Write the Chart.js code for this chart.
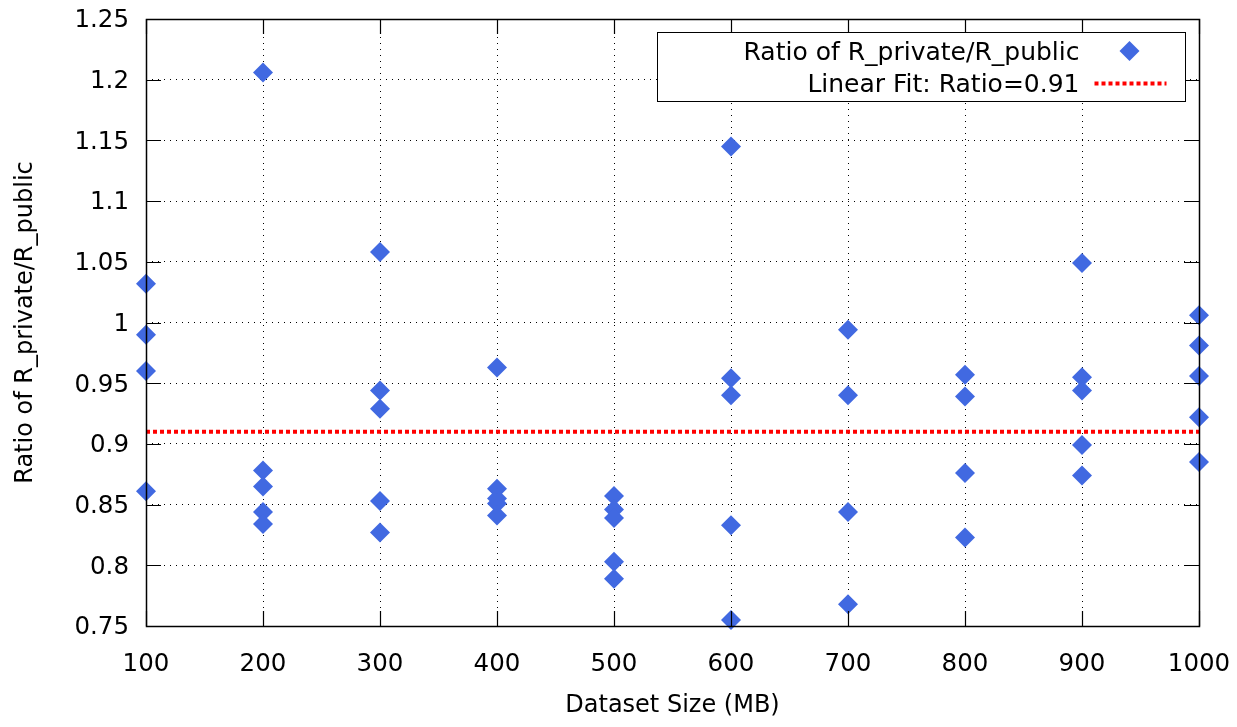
<!DOCTYPE html>
<html><head><meta charset="utf-8">
<script src="https://cdn.jsdelivr.net/npm/chart.js@4.4.1/dist/chart.umd.min.js"></script>
<style>html,body{margin:0;padding:0;background:#fff;}canvas{display:block;}</style>
</head><body>
<canvas id="c" width="1237" height="727"></canvas>
<script>
// ---- data ----
const datasetSizes = [100, 200, 300, 400, 500, 600, 700, 800, 900, 1000];
const ratios100  = [1.032, 0.990, 0.960, 0.861];
const ratios200  = [1.206, 0.878, 0.865, 0.844, 0.834];
const ratios300  = [1.058, 0.944, 0.929, 0.853, 0.827];
const ratios400  = [0.963, 0.863, 0.855, 0.851, 0.841];
const ratios500  = [0.857, 0.846, 0.839, 0.803, 0.789];
const ratios600  = [1.145, 0.954, 0.940, 0.833, 0.755];
const ratios700  = [0.994, 0.940, 0.844, 0.768];
const ratios800  = [0.957, 0.939, 0.876, 0.823];
const ratios900  = [1.049, 0.955, 0.944, 0.899, 0.874];
const ratios1000 = [1.006, 0.981, 0.956, 0.922, 0.885];
const ratiosBySize = [ratios100, ratios200, ratios300, ratios400, ratios500,
                      ratios600, ratios700, ratios800, ratios900, ratios1000];
const fitRatio = 0.91;
const xTicks = [100, 200, 300, 400, 500, 600, 700, 800, 900, 1000];
const xTickLabels = ['100','200','300','400','500','600','700','800','900','1000'];
const yTicks = [0.75, 0.8, 0.85, 0.9, 0.95, 1, 1.05, 1.1, 1.15, 1.2, 1.25];
const yTickLabels = ['0.75','0.8','0.85','0.9','0.95','1','1.05','1.1','1.15','1.2','1.25'];
const seriesLabel = 'Ratio of R_private/R_public';
const fitLabel = 'Linear Fit: Ratio=' + fitRatio;
const xTitle = 'Dataset Size (MB)';
const yTitle = 'Ratio of R_private/R_public';

// ---- build ----
const points = [];
datasetSizes.forEach((s, i) => ratiosBySize[i].forEach(r => points.push({x: s, y: r})));
const fitPoints = [{x: datasetSizes[0], y: fitRatio}, {x: datasetSizes[datasetSizes.length - 1], y: fitRatio}];

const NF = "'DejaVu Sans', sans-serif";
const BLUE = '#4169e1';
const RED = '#ff0000';

function zeroPad(s) { s.paddingTop = 0; s.paddingBottom = 0; s.paddingLeft = 0; s.paddingRight = 0; }

const framePlugin = {
  id: 'frame',
  afterDatasetsDraw(chart) {
    const {ctx, chartArea: a, scales: {x, y}} = chart;
    ctx.save();
    ctx.setLineDash([]);
    ctx.strokeStyle = '#000';
    ctx.lineWidth = 1.2;
    ctx.beginPath();
    xTicks.forEach(v => {
      const px = Math.round(x.getPixelForValue(v)) + 0.5;
      ctx.moveTo(px, a.bottom); ctx.lineTo(px, a.bottom - 15);
      ctx.moveTo(px, a.top); ctx.lineTo(px, a.top + 15);
    });
    yTicks.forEach(v => {
      const py = Math.round(y.getPixelForValue(v)) + 0.5;
      ctx.moveTo(a.left, py); ctx.lineTo(a.left + 15, py);
      ctx.moveTo(a.right, py); ctx.lineTo(a.right - 15, py);
    });
    ctx.stroke();
    ctx.lineWidth = 1.5;
    ctx.strokeRect(Math.round(a.left) + 0.5, Math.round(a.top) + 0.5,
                   Math.round(a.right - a.left), Math.round(a.bottom - a.top));
    ctx.restore();
  },
  afterDraw(chart) {
    const {ctx, chartArea: a} = chart;
    const ds = chart.data.datasets;
    const bw = 528, bh = 69;
    const bx = Math.round(a.right - 14) + 0.5 - bw, by = Math.round(a.top + 13) + 0.5;
    ctx.save();
    ctx.fillStyle = '#fff';
    ctx.fillRect(bx, by, bw, bh);
    ctx.strokeStyle = '#000';
    ctx.lineWidth = 1;
    ctx.setLineDash([]);
    ctx.strokeRect(bx, by, bw, bh);
    ctx.fillStyle = '#000';
    ctx.font = '25px ' + NF;
    ctx.textAlign = 'right';
    ctx.textBaseline = 'middle';
    const tx = bx + 422;
    ctx.fillText(ds[1].label, tx, by + 21);
    ctx.fillText(ds[0].label, tx, by + 53);
    // diamond sample
    const dx = bx + 472, dy = by + 18.5, r = 10;
    ctx.fillStyle = ds[1].backgroundColor;
    ctx.beginPath();
    ctx.moveTo(dx - r, dy); ctx.lineTo(dx, dy - r); ctx.lineTo(dx + r, dy); ctx.lineTo(dx, dy + r);
    ctx.closePath(); ctx.fill();
    // line sample
    ctx.strokeStyle = ds[0].borderColor;
    ctx.lineWidth = ds[0].borderWidth;
    ctx.setLineDash(ds[0].borderDash);
    ctx.beginPath();
    ctx.moveTo(bx + 437, by + 51); ctx.lineTo(bx + 509, by + 51);
    ctx.stroke();
    ctx.restore();
  }
};

new Chart(document.getElementById('c').getContext('2d'), {
  type: 'scatter',
  data: {
    datasets: [
      {
        type: 'line', label: fitLabel, data: fitPoints,
        borderColor: RED, backgroundColor: RED, borderWidth: 4, borderDash: [4, 3],
        borderCapStyle: 'butt', pointRadius: 0, fill: false, order: 0
      },
      {
        label: seriesLabel, data: points,
        pointStyle: 'rectRot', pointRadius: 10, pointHoverRadius: 10, pointBorderWidth: 0,
        backgroundColor: BLUE, borderColor: BLUE, order: 1, clip: false
      }
    ]
  },
  options: {
    responsive: false, animation: false, devicePixelRatio: 1,
    layout: {padding: {left: 0, top: 19, right: 38, bottom: 0}},
    plugins: {legend: {display: false}, tooltip: {enabled: false}},
    scales: {
      x: {
        type: 'linear', min: 100, max: 1000,
        afterBuildTicks: s => { s.ticks = xTicks.map(v => ({value: v})); },
        afterFit: s => { s.height = 101; zeroPad(s); },
        grid: {color: '#000', lineWidth: 1, drawTicks: false},
        border: {display: false, dash: [1, 5]},
        ticks: {color: '#000', padding: 24, maxRotation: 0, autoSkip: false,
                font: {family: NF, size: 24.5}, callback: (v, i) => xTickLabels[i]},
        title: {display: true, text: xTitle, color: '#000', font: {family: NF, size: 24},
                padding: {top: 0, bottom: 7}}
      },
      y: {
        type: 'linear', min: 0.75, max: 1.25,
        afterBuildTicks: s => { s.ticks = yTicks.map(v => ({value: v})); },
        afterFit: s => { s.width = 146; zeroPad(s); },
        grid: {color: '#000', lineWidth: 1, drawTicks: false},
        border: {display: false, dash: [1, 5]},
        ticks: {color: '#000', padding: 17, labelOffset: 2, autoSkip: false,
                font: {family: NF, size: 24.5}, callback: (v, i) => yTickLabels[i]},
        title: {display: true, text: yTitle, color: '#000', font: {family: NF, size: 24},
                padding: {top: 11.6, bottom: 0}}
      }
    }
  },
  plugins: [framePlugin]
});
</script>
</body></html>
